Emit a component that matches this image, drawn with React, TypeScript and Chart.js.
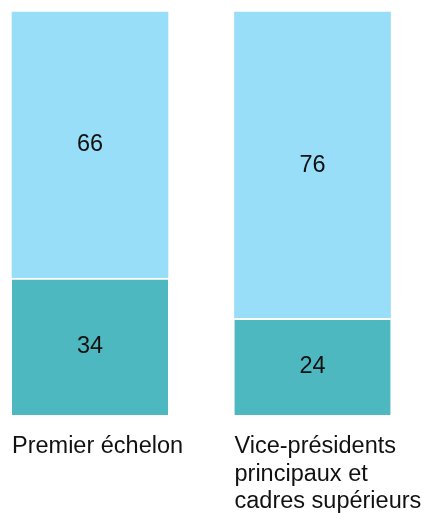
import React, { useEffect, useRef } from "react";
import { Chart, registerables } from "chart.js";

Chart.register(...registerables);

const categories: string[][] = [
  ["Premier échelon"],
  ["Vice-présidents", "principaux et", "cadres supérieurs"],
];
const bottomValues = [34, 24];
const topValues = [66, 76];

const TEAL = "#4db8c0";
const LIGHT = "#98def8";
const FONT = "'Liberation Sans', Arial, sans-serif";

const valueLabels = {
  id: "valueLabels",
  afterDatasetsDraw(chart: any) {
    const ctx = chart.ctx;
    ctx.save();
    ctx.font = `23.5px ${FONT}`;
    ctx.fillStyle = "#111111";
    ctx.textAlign = "center";
    ctx.textBaseline = "middle";
    chart.data.datasets.forEach((ds: any, di: number) => {
      const meta = chart.getDatasetMeta(di);
      meta.data.forEach((el: any, i: number) => {
        const y = (el.y + el.base) / 2;
        ctx.fillText(String(ds.data[i]), el.x, y);
      });
    });
    ctx.restore();
  },
};

export default function App() {
  const ref = useRef<HTMLCanvasElement | null>(null);
  useEffect(() => {
    if (!ref.current) return;
    const chart = new Chart(ref.current, {
      type: "bar",
      data: {
        labels: categories,
        datasets: [
          {
            data: bottomValues,
            backgroundColor: TEAL,
            borderColor: "#ffffff",
            borderWidth: { top: 2, left: 0, right: 0, bottom: 0 },
            borderSkipped: false,
            barThickness: 156,
            clip: false,
          } as any,
          {
            data: topValues,
            backgroundColor: LIGHT,
            borderWidth: 0,
            barThickness: 156,
            clip: false,
          } as any,
        ],
      },
      options: {
        animation: false,
        responsive: true,
        maintainAspectRatio: false,
        events: [],
        layout: { padding: { left: 90, right: 114.5, top: 12, bottom: 0 } },
        plugins: {
          legend: { display: false },
          tooltip: { enabled: false },
        },
        scales: {
          x: {
            stacked: true,
            offset: false,
            grid: { display: false, drawTicks: false },
            border: { display: false },
            afterFit: (scale: any) => {
              scale.paddingLeft = 0;
              scale.paddingRight = 0;
              scale.height = 98;
            },
            ticks: {
              autoSkip: false,
              maxRotation: 0,
              minRotation: 0,
              align: "start",
              labelOffset: -78,
              padding: 18,
              color: "#111111",
              font: { family: FONT, size: 23.5, lineHeight: 1.17 },
            },
          } as any,
          y: {
            stacked: true,
            min: 0,
            max: 100,
            display: false,
          },
        },
      },
      plugins: [valueLabels],
    });
    return () => chart.destroy();
  }, []);
  return (
    <div style={{ position: "fixed", left: 0, top: 0, width: 427, height: 513, background: "#ffffff" }}>
      <canvas ref={ref} />
    </div>
  );
}
